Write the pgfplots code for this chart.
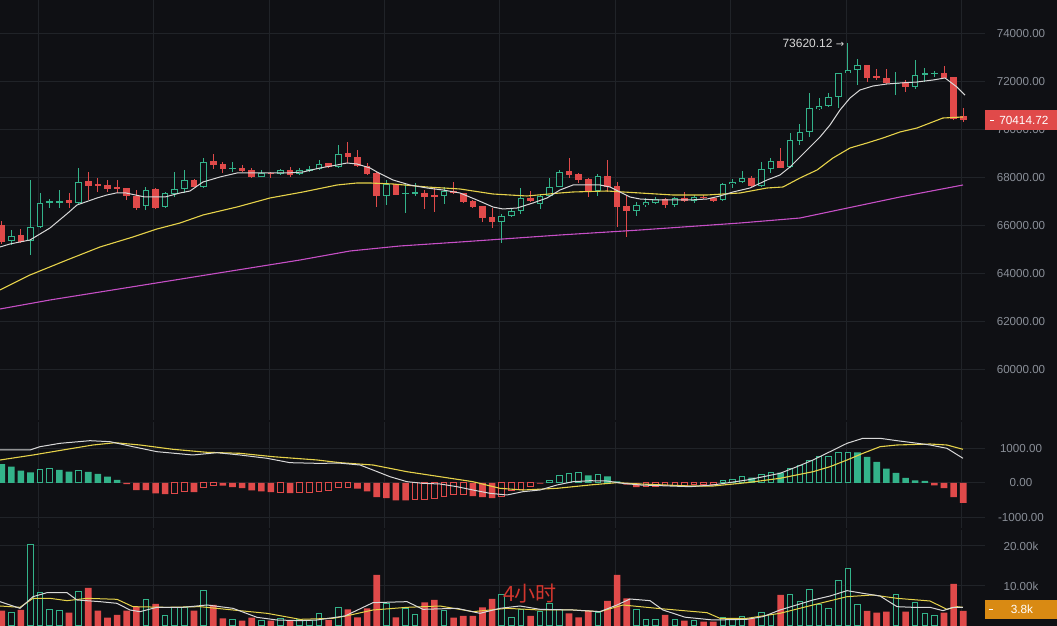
\documentclass[border=0pt]{standalone}
\usepackage{fontspec}
\setmainfont{Liberation Sans}
\newfontfamily\cjk{Noto Sans CJK SC}
\newfontfamily\dejavu{DejaVu Sans}
\usepackage{pgfplots}
\usepackage{pgfplotstable}
\pgfplotsset{compat=1.18}
\definecolor{bgc}{HTML}{0F1014}
\definecolor{gridc}{HTML}{202328}
\definecolor{tickc}{HTML}{8A8F98}
\definecolor{cred}{HTML}{E04A4A}
\definecolor{cgreen}{HTML}{33B38A}
\definecolor{mawhite}{HTML}{D8D8D8}
\definecolor{mayellow}{HTML}{E6D24A}
\definecolor{mamag}{HTML}{C64FC6}
\definecolor{corange}{HTML}{D98A13}
\definecolor{wmark}{HTML}{D2362E}

% candles: index open high low close volume
\pgfplotstableread{
i o h l c v
0 66042 66200 65250 65333 3833
2 65625 65875 65292 65333 4000
7 67083 67375 66750 66958 3333
9 67875 68250 67083 67667 9500
10 67750 68000 67417 67667 3833
11 67708 67917 67417 67542 2083
12 67625 67917 67375 67542 2750
13 67583 67583 67083 67250 3833
14 67250 67500 66667 66750 4833
16 67542 67583 66708 66750 5500
20 67917 67958 67625 67639 3833
22 68708 69000 68375 68542 5250
23 68583 68681 68194 68361 1917
25 68431 68542 68264 68306 1333
26 68333 68403 68014 68028 2083
28 68222 68236 67986 68167 1333
30 68333 68444 68056 68125 1333
34 68611 68611 68403 68444 1500
36 69028 69514 68611 68889 4167
37 68889 69167 68472 68514 2167
38 68500 68611 68125 68167 4417
39 68194 68264 66806 67250 12750
41 67736 67736 67292 67292 2167
44 67361 67500 66708 67222 5917
45 67292 67569 66597 67222 6500
47 67472 67819 67319 67361 2083
48 67361 67389 66972 67014 2500
49 67056 67083 66764 66806 2500
50 66833 66833 66181 66347 4667
51 66361 66736 65903 66181 6750
55 67153 67458 67014 67042 2500
59 68306 68819 67986 68125 3167
60 68167 68222 67806 67917 2167
61 67944 67986 67222 67472 3833
63 68083 68750 67431 67639 6250
64 67667 67847 65972 66778 12750
65 66833 67292 65556 66625 6917
69 67111 67153 66736 66875 2750
71 67153 67431 67014 67042 1333
73 67222 67292 67111 67153 1083
74 67153 67222 67014 67056 1083
78 67986 68097 67639 67667 1917
81 68708 69236 68403 68431 7750
90 72708 72708 72014 72181 3750
91 72250 72528 72083 72153 3333
92 72181 72528 71903 71944 3583
94 72014 72083 71597 71778 3583
98 72361 72667 72153 72181 3333
99 72194 72194 70417 70444 10500
100 70583 70903 70347 70414.72 3800
}\redc

\pgfplotstableread{
i o h l c v
1 65375 65833 65208 65583 3417
3 65388 67917 64792 65971 20417
4 65958 67375 65900 66958 8417
5 66958 67125 66750 67042 4167
6 66979 67500 66750 67042 3750
8 66958 68417 66875 67833 8667
15 66833 67625 66667 67500 6667
17 66792 67417 66750 67375 2583
18 67333 68250 67208 67542 4667
19 67542 68333 67375 67917 4667
21 67639 68833 67583 68681 8917
24 68361 68681 68264 68431 1500
27 68056 68333 68028 68194 1333
29 68167 68361 68125 68333 1917
31 68167 68403 68125 68333 1667
32 68306 68514 68264 68375 1333
33 68375 68750 68333 68583 3167
35 68444 69375 68403 69000 4667
40 67264 67917 66875 67736 5667
42 67333 67806 66556 67375 4417
43 67361 67806 67264 67431 2750
46 67264 67639 66917 67458 3750
52 66181 66500 65278 66431 7917
53 66431 66736 66361 66639 2167
54 66625 67569 66500 67153 4000
56 66917 67292 66708 67250 3583
57 67264 67986 67222 67639 5667
58 67639 68333 67611 68264 4000
62 67472 68167 67250 68083 3417
66 66639 67014 66431 66875 4000
67 66875 67153 66806 66986 1667
68 66944 67222 66917 67111 1667
70 66875 67222 66806 67153 1500
72 67042 67292 66944 67194 1333
75 67083 67806 67056 67750 2167
76 67750 67944 67569 67847 1500
77 67819 68306 67778 67986 2333
79 67667 68681 67611 68361 3417
80 68361 68819 68222 68708 2750
82 68444 69861 68403 69583 7917
83 69556 70236 69375 69903 6083
84 69903 71556 69722 70903 9167
85 70875 71319 70833 71000 5250
86 71000 71556 70944 71389 4417
87 71389 72389 70903 72361 11333
88 72361 73620.12 72361 72500 14417
89 72500 72958 71875 72708 5417
93 71917 72431 71458 71972 7917
95 71778 72917 71694 72292 5833
96 72292 72569 72014 72361 3167
97 72333 72472 72222 72389 2500
}\greenc

% price moving averages
\pgfplotstableread{
x y
-0.18 65125
0.86 65250
2.94 65417
5.02 65917
6.89 66542
7.83 66875
9.91 67167
10.95 67292
11.89 67375
12.93 67375
14.9 67208
16.98 67208
18.54 67375
19.58 67458
20.93 67833
22.7 68042
24.47 68208
26.13 68208
27.9 68208
29.67 68208
31.33 68250
33.1 68417
34.87 68542
35.91 68625
36.95 68583
38.3 68417
39.03 68250
40.69 67917
42.46 67708
44.23 67583
45.89 67500
47.66 67375
49.43 67083
51.09 66792
52.13 66708
53.59 66750
55.25 66958
56.71 67167
58.06 67500
59.41 67708
60.87 67708
62.22 67708
63.26 67625
64.3 67417
65.34 67208
66.38 67125
68.15 67083
69.81 67083
71.58 67083
73.35 67125
74.7 67250
76.05 67417
77.82 67583
79.59 67917
80.94 68125
81.98 68458
83.75 69167
85.1 69708
86.14 70208
87.18 70833
88.22 71333
89.26 71667
90.61 71833
92.07 71917
93.42 71958
95.19 72000
96.85 72083
98.1 72167
99.34 71792
100.18 71450
}\mawhitet

\pgfplotstableread{
x y
-0.18 63333
2.94 63958
6.79 64583
10.22 65125
13.65 65542
16.15 65875
18.54 66125
20.93 66458
24.47 66792
27.9 67167
31.33 67417
34.87 67708
36.95 67792
38.3 67792
40.69 67750
44.23 67625
47.66 67542
51.09 67333
54.63 67250
58.06 67375
59.41 67417
62.95 67458
66.38 67375
69.81 67292
73.35 67292
76.78 67375
79.59 67583
81.25 67625
83.02 68000
84.79 68333
86.45 68833
88.22 69250
89.99 69458
91.65 69667
93.42 69917
95.19 70083
97.89 70500
99.97 70542
}\mayellowt

\pgfplotstableread{
x y
-0.18 62542
5.02 62917
10.22 63250
15.42 63583
20.62 63917
25.82 64250
31.02 64583
36.22 64958
41.42 65167
47.66 65333
58.06 65625
66.38 65833
76.78 66125
83.02 66333
93.42 67208
99.97 67708
}\mamagt

% MACD histogram
\pgfplotstableread{
i v
0 550
1 480
2 362
3 314
6 382
7 333
9 324
10 265
11 186
12 88
61 225
63 196
64 49
78 157
81 304
89 892
90 765
91 618
92 422
93 294
94 147
95 78
96 59
}\mgf
\pgfplotstableread{
i v
4 402
5 412
8 353
57 78
58 206
59 275
60 304
62 255
75 59
76 108
77 176
79 245
80 304
82 422
83 520
84 647
85 765
86 784
87 882
88 892
}\mgh
\pgfplotstableread{
i v
13 -30
14 -206
15 -206
16 -304
17 -324
20 -265
23 -78
24 -118
25 -147
26 -216
27 -245
28 -265
30 -294
37 -167
38 -245
39 -412
40 -441
41 -510
42 -510
49 -382
50 -412
51 -441
56 -20
65 -49
66 -118
97 -69
98 -147
99 -412
100 -578
}\mrf
\pgfplotstableread{
i v
18 -304
19 -245
21 -118
22 -69
29 -265
31 -265
32 -265
33 -235
34 -225
35 -137
36 -118
43 -490
44 -490
45 -461
46 -392
47 -343
48 -333
52 -392
53 -216
54 -196
55 -98
67 -98
68 -98
69 -88
70 -88
71 -69
72 -39
73 -30
74 -30
}\mrh

\pgfplotstableread{
x y
-0.18 965
2.94 965
3.98 1061
6.06 1160
9.18 1237
11.26 1208
13.65 1061
16.15 915
19.89 819
22.39 886
24.78 819
27.59 722
29.98 594
32.79 575
35.18 580
37.26 526
38.61 380
40.38 184
42.15 38
43.81 -10
45.58 -29
47.35 -108
49.01 -205
50.78 -302
52.55 -351
54.21 -254
55.98 -205
57.75 -58
59.41 38
61.18 67
62.95 58
64.61 -10
66.38 -58
71.58 -108
73.97 -58
77.51 88
80.94 283
82.71 477
84.37 672
86.14 915
87.91 1160
89.57 1307
91.34 1307
93.11 1237
94.77 1178
96.54 1111
98.3 1014
99.97 722
}\difft

\pgfplotstableread{
x y
-0.18 672
3.26 819
6.79 985
9.49 1111
11.78 1178
14.38 1111
17.81 985
21.35 897
24.78 868
28.21 769
32.79 673
35.18 594
38.61 526
42.15 330
45.58 184
49.01 38
51.82 -156
54.21 -205
57.75 -156
61.18 -58
63.99 10
66.38 -29
71.58 -88
73.97 -88
77.51 10
80.94 137
84.37 330
86.14 477
87.91 672
89.57 868
91.34 1061
93.11 1111
96.54 1140
98.3 1111
99.97 985
}\deat

% volume moving averages
\pgfplotstableread{
x y
-0.18 6083
1.90 4417
3.26 7333
4.71 8333
6.79 8333
7.83 6500
10.22 6083
11.99 5667
13.34 4000
14.38 3583
16.15 4667
18.85 4667
21.35 5250
24.05 4417
26.55 2167
28.63 1500
31.02 1333
32.79 1500
35.7 2500
38.61 5833
42.15 6083
43.81 4167
47.35 4417
49.74 3167
51.82 4417
53.9 5000
55.98 4167
59.41 4000
62.22 3583
63.99 5250
65.34 6750
67.42 6333
68.77 4000
71.06 2200
73.97 1500
77.51 1667
79.17 2333
80.94 4000
84.37 6500
86.14 7500
87.91 8833
89.57 8167
91.34 7500
93.11 4833
94.77 4667
96.54 4667
97.89 3833
98.93 4667
99.97 4667
}\vwhitet

\pgfplotstableread{
x y
-0.18 5000
1.90 4667
3.26 6917
5.02 6917
6.79 6333
8.87 6917
11.99 6667
13.65 4833
17.19 4667
20.62 4833
24.05 4000
27.59 3167
31.02 1667
34.45 1917
35.7 2450
38.61 4000
42.15 4667
45.58 5000
49.01 3583
52.55 4417
55.98 4000
59.41 4000
62.22 3583
64.61 5250
68.15 4417
71.06 3800
73.35 3333
74.7 1917
77.51 1917
80.94 3167
84.37 5250
87.91 7333
90.61 7750
93.11 6917
96.54 6250
98.3 4167
99.34 4833
99.97 4667
}\vyellowt

\pgfplotsset{
  panel/.style={
    scale only axis, width=492.5pt,
    xmin=-0.177, xmax=102.26,
    axis line style={draw=none},
    xtick={3.78,15.79,27.80,39.81,51.82,63.83,75.84,87.85,99.86},
    xticklabels={},
    xmajorgrids, ymajorgrids,
    major grid style={draw=gridc, line width=0.5pt},
    major tick length=0pt,
    scaled y ticks=false,
    yticklabel pos=right,
    yticklabel style={anchor=center, xshift=18pt, text=tickc,
      font=\fontsize{5.8}{7}\selectfont, inner sep=0pt},
    clip mode=individual,
  },
  cbar/.style={draw=none, mark=none, forget plot, error bars/.cd, y dir=both, y explicit, error mark=none,
    error bar style={draw=#1, line width=0.5pt, line cap=butt}},
  cbody/.style 2 args={draw=none, mark=none, forget plot, error bars/.cd, y dir=both, y explicit, error mark=none,
    error bar style={draw=#1, line width=#2, line cap=butt}},
}

\begin{document}
\begin{tikzpicture}
\path[use as bounding box] (0pt,0pt) rectangle (528.5pt,313pt);
\fill[bgc] (0pt,0pt) rectangle (528.5pt,313pt);

% ---------------- price panel ----------------
\begin{axis}[panel, at={(0pt,103pt)}, anchor=south west, height=210pt,
  ymin=57916.7, ymax=75416.7,
  ytick={60000,62000,64000,66000,68000,70000,72000,74000},
  yticklabels={60000.00,62000.00,64000.00,66000.00,68000.00,70000.00,72000.00,74000.00}]
% wicks
\addplot[cbar=cred]
  table[x=i, y expr={(\thisrow{h}+\thisrow{l})/2}, y error expr={(\thisrow{h}-\thisrow{l})/2}]{\redc};
\addplot[cbar=cgreen]
  table[x=i, y expr={(\thisrow{h}+\thisrow{l})/2}, y error expr={(\thisrow{h}-\thisrow{l})/2}]{\greenc};
% bodies
\addplot[cbody={cred}{3.3pt}]
  table[x=i, y expr={(\thisrow{o}+\thisrow{c})/2}, y error expr={max(abs(\thisrow{o}-\thisrow{c})/2,21)}]{\redc};
\addplot[cbody={cgreen}{3.3pt}]
  table[x=i, y expr={(\thisrow{o}+\thisrow{c})/2}, y error expr={max(abs(\thisrow{o}-\thisrow{c})/2,21)}]{\greenc};
\addplot[cbody={bgc}{2.3pt}]
  table[x=i, y expr={(\thisrow{o}+\thisrow{c})/2}, y error expr={max(abs(\thisrow{o}-\thisrow{c})/2-42,0)}]{\greenc};
% moving averages
\addplot[mamag, line width=0.55pt, mark=none] table[x=x,y=y]{\mamagt};
\addplot[mayellow, line width=0.55pt, mark=none] table[x=x,y=y]{\mayellowt};
\addplot[mawhite, line width=0.5pt, mark=none] table[x=x,y=y]{\mawhitet};
% annotations
\node[anchor=east, inner sep=0pt, text=mawhite, font=\fontsize{6}{7}\selectfont]
  at ([xshift=-1.6pt]axis cs:88,73620.12) {73620.12 {\dejavu\fontsize{5}{6}\selectfont →}};
\node[fill=cred, text=white, minimum width=36.5pt, minimum height=10pt, inner sep=0pt,
  anchor=west, font=\fontsize{5.9}{7}\selectfont]
  at (axis cs:102.26,70414.72) {\hspace*{2pt}70414.72};
\draw[white, line width=0.5pt] ([xshift=2.6pt]axis cs:102.26,70414.72) -- ++(2pt,0pt);
\end{axis}

% ---------------- MACD panel ----------------
\begin{axis}[panel, at={(0pt,49pt)}, anchor=south west, height=53pt,
  ymin=-1315.8, ymax=1783.6,
  ytick={-1000,0,1000},
  yticklabels={-1000.00,0.00,1000.00}]
\addplot[ybar, bar width=3.3pt, bar shift=0pt, fill=cgreen, draw=none] table[x=i,y=v]{\mgf};
\addplot[ybar, bar width=2.8pt, bar shift=0pt, fill=bgc, draw=cgreen, line width=0.5pt] table[x=i,y=v]{\mgh};
\addplot[ybar, bar width=3.3pt, bar shift=0pt, fill=cred, draw=none] table[x=i,y=v]{\mrf};
\addplot[ybar, bar width=2.8pt, bar shift=0pt, fill=bgc, draw=cred, line width=0.5pt] table[x=i,y=v]{\mrh};
\addplot[mayellow, line width=0.55pt, mark=none] table[x=x,y=y]{\deat};
\addplot[mawhite, line width=0.5pt, mark=none] table[x=x,y=y]{\difft};
\end{axis}

% ---------------- volume panel ----------------
\begin{axis}[panel, at={(0pt,0pt)}, anchor=south west, height=48pt,
  ymin=0, ymax=24000,
  ytick={10000,20000},
  yticklabels={10.00k,20.00k}]
\addplot[ybar, bar width=3.3pt, bar shift=0pt, fill=cred, draw=none] table[x=i,y=v]{\redc};
\addplot[ybar, bar width=2.8pt, bar shift=0pt, fill=bgc, draw=cgreen, line width=0.5pt] table[x=i,y=v]{\greenc};
\addplot[mayellow, line width=0.5pt, mark=none] table[x=x,y=y]{\vyellowt};
\addplot[mawhite, line width=0.5pt, mark=none] table[x=x,y=y]{\vwhitet};
\node[text=wmark, font=\cjk\fontsize{10.5}{12}\selectfont, inner sep=0pt]
  at (axis cs:54.94,8125) {4小时};
\node[fill=corange, text=white, minimum width=36.5pt, minimum height=9.5pt, inner sep=0pt,
  anchor=west, font=\fontsize{5.9}{7}\selectfont]
  at (axis cs:102.26,4125) {3.8k};
\draw[white, line width=0.5pt] ([xshift=1.8pt]axis cs:102.26,4125) -- ++(2pt,0pt);
\end{axis}
\end{tikzpicture}
\end{document}
